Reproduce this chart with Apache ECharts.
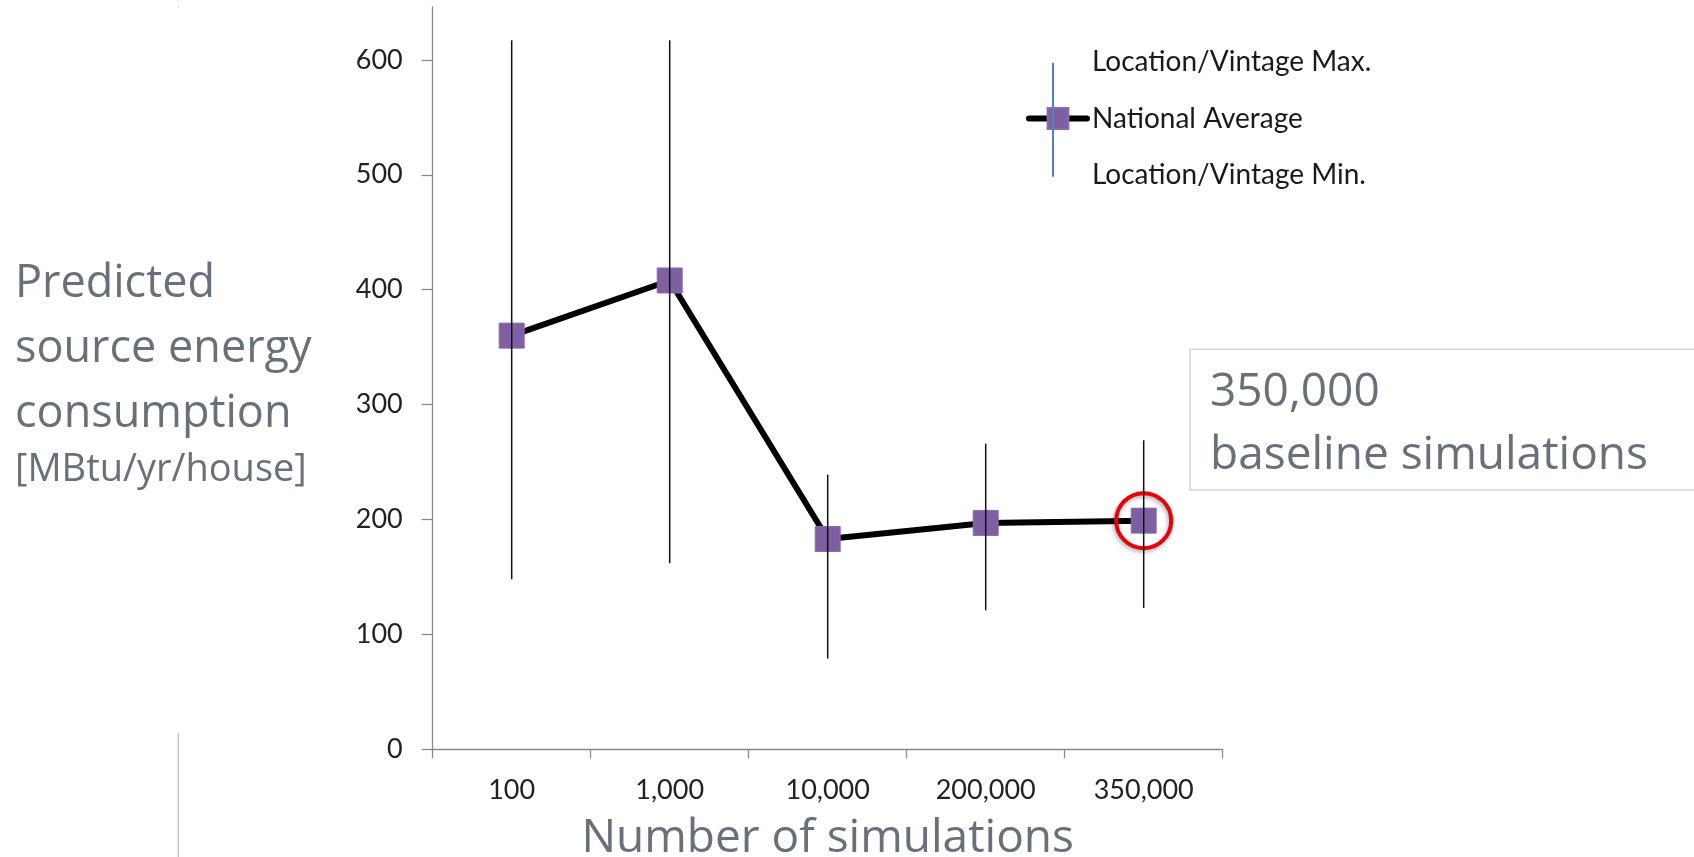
<!DOCTYPE html>
<html>
<head>
<meta charset="utf-8">
<script src="https://cdn.jsdelivr.net/npm/echarts@6/dist/echarts.min.js"></script>
<style>
html,body{margin:0;padding:0;background:#fff;}
#chart{width:1694px;height:857px;}
</style>
</head>
<body>
<div id="chart"></div>
<script>
// ---- data ----
const categories = ['100', '1,000', '10,000', '200,000', '350,000'];
const nationalAverage = [360, 408, 183, 197, 199];
const locationMax = [617, 617, 239, 266, 269];
const locationMin = [148, 162, 79, 121, 123];
const yTicks = [0, 100, 200, 300, 400, 500, 600];
const highlightIndex = 4;
const yTitleLines = ['Predicted', 'source energy', 'consumption'];
const yTitleUnit = '[MBtu/yr/house]';
const xTitle = 'Number of simulations';
const noteLines = ['350,000', 'baseline simulations'];

const grey = '#68717a';
const axisGrey = '#8a8a8a';

const chart = echarts.init(document.getElementById('chart'), null, {renderer: 'canvas'});

const errData = categories.map((c, i) => [i, locationMin[i], locationMax[i]]);

const hidden = {opacity: 0, color: 'rgba(0,0,0,0)'};

const option = {
  backgroundColor: '#ffffff',
  animation: false,
  grid: {left: 432.7, right: 471.3, top: 7, bottom: 107.7, containLabel: false, outerBoundsMode: 'none'},
  legend: {
    orient: 'vertical',
    left: 1026,
    top: 48,
    padding: 0,
    itemWidth: 58,
    itemHeight: 26,
    itemGap: 28.5,
    textStyle: {fontFamily: 'Lato', fontSize: 28, color: '#1a1a1a'},
    data: [
      {name: 'Location/Vintage Max.', itemStyle: hidden, lineStyle: hidden},
      {name: 'National Average', lineStyle: {width: 6, color: '#000', cap: 'round'}},
      {name: 'Location/Vintage Min.', itemStyle: hidden, lineStyle: hidden}
    ]
  },
  xAxis: {
    type: 'category',
    data: categories,
    boundaryGap: true,
    axisLine: {lineStyle: {color: axisGrey, width: 1.3}},
    axisTick: {show: true, length: 9, interval: 0, lineStyle: {color: axisGrey, width: 1.3}},
    axisLabel: {interval: 0, margin: 27, fontFamily: 'Lato', fontSize: 27, color: '#222'},
    splitLine: {show: false},
    name: xTitle,
    nameLocation: 'middle',
    nameGap: 67,
    nameTextStyle: {fontFamily: 'Open Sans', fontSize: 46, color: grey}
  },
  yAxis: {
    type: 'value',
    min: 0,
    max: 646,
    interval: 100,
    axisLine: {show: true, lineStyle: {color: axisGrey, width: 1.3}},
    axisTick: {show: true, length: 11, customValues: yTicks, lineStyle: {color: axisGrey, width: 1.3}},
    axisLabel: {margin: 30, customValues: yTicks, fontFamily: 'Lato', fontSize: 27, color: '#222'},
    splitLine: {show: false}
  },
  series: [
    {
      name: 'Location/Vintage Max.',
      type: 'line',
      data: locationMax,
      symbol: 'none',
      silent: true,
      lineStyle: {opacity: 0, width: 0},
      itemStyle: {opacity: 0}
    },
    {
      name: 'National Average',
      type: 'line',
      data: nationalAverage,
      symbol: 'rect',
      symbolSize: 25,
      z: 3,
      lineStyle: {color: '#000', width: 6, cap: 'round', join: 'round'},
      itemStyle: {color: '#7e60a2', borderColor: '#8a6cae', borderWidth: 1},
      markPoint: {
        symbol: 'circle',
        symbolSize: 55,
        silent: true,
        label: {show: false},
        itemStyle: {
          color: 'rgba(0,0,0,0)',
          borderColor: '#e8000b',
          borderWidth: 4,
          shadowBlur: 4,
          shadowColor: 'rgba(0,0,0,0.35)',
          shadowOffsetX: -1,
          shadowOffsetY: 2
        },
        data: [{coord: [categories[highlightIndex], nationalAverage[highlightIndex]]}]
      }
    },
    {
      name: 'Location/Vintage Min.',
      type: 'line',
      data: locationMin,
      symbol: 'none',
      silent: true,
      lineStyle: {opacity: 0, width: 0},
      itemStyle: {opacity: 0}
    },
    {
      name: 'High-low',
      type: 'custom',
      z: 5,
      silent: true,
      data: errData,
      encode: {x: 0, y: [1, 2]},
      renderItem: function (params, api) {
        const x = api.value(0);
        const lo = api.coord([x, api.value(1)]);
        const hi = api.coord([x, api.value(2)]);
        return {
          type: 'line',
          shape: {x1: lo[0], y1: lo[1], x2: hi[0], y2: hi[1]},
          style: {stroke: '#111', lineWidth: 1.5}
        };
      }
    }
  ],
  graphic: [
    // y-axis title
    {
      type: 'text', left: 15, top: 252, silent: true,
      style: {text: yTitleLines.join('\n'), font: '45px "Open Sans"', lineHeight: 65, fill: grey}
    },
    {
      type: 'text', left: 15, top: 451, silent: true,
      style: {text: yTitleUnit, font: '38px "Open Sans"', lineHeight: 38, fill: grey}
    },
    // legend high-low line sample
    {
      type: 'line', silent: true, z: 100,
      shape: {x1: 1053, y1: 62.7, x2: 1053, y2: 176.7},
      style: {stroke: '#4f81bd', lineWidth: 2}
    },
    // annotation box
    {
      type: 'rect', silent: true,
      shape: {x: 1190, y: 349.3, width: 600, height: 140.7},
      style: {fill: '#fff', stroke: '#d6d6d6', lineWidth: 1.5}
    },
    {
      type: 'text', left: 1210, top: 361, silent: true,
      style: {text: noteLines.join('\n'), font: '46px "Open Sans"', lineHeight: 63, fill: grey}
    },
    // slide artifacts
    {
      type: 'line', silent: true,
      shape: {x1: 178.3, y1: 733, x2: 178.3, y2: 857},
      style: {stroke: '#c4c4c4', lineWidth: 1.5}
    },
    {
      type: 'line', silent: true,
      shape: {x1: 178.3, y1: 6, x2: 178.3, y2: 8},
      style: {stroke: '#d4d4d4', lineWidth: 1}
    }
  ]
};

chart.setOption(option);
</script>
</body>
</html>
